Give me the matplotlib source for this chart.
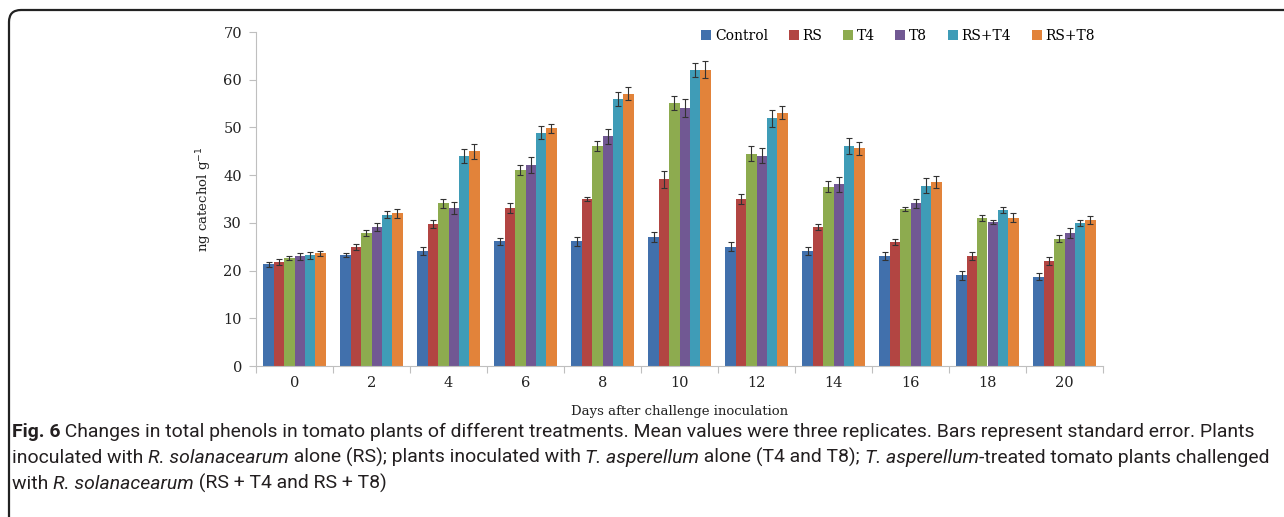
import matplotlib
matplotlib.use("Agg")
import matplotlib.pyplot as plt
import numpy as np
from matplotlib.path import Path
from matplotlib.patches import PathPatch

days = ["0", "2", "4", "6", "8", "10", "12", "14", "16", "18", "20"]
series_names = ["Control", "RS", "T4", "T8", "RS+T4", "RS+T8"]
control = [21.3, 23.2, 24.1, 26.1, 26.1, 27.0, 25.0, 24.1, 23.0, 19.0, 18.7]
rs      = [21.8, 25.0, 29.8, 33.1, 35.0, 39.1, 35.0, 29.1, 26.0, 23.0, 22.0]
t4      = [22.7, 27.9, 34.1, 41.1, 46.1, 55.1, 44.5, 37.6, 32.9, 31.0, 26.7]
t8      = [23.0, 29.1, 33.1, 42.1, 48.1, 54.0, 44.1, 38.1, 34.1, 30.2, 27.9]
rs_t4   = [23.2, 31.7, 44.0, 48.9, 55.9, 62.0, 51.9, 46.1, 37.8, 32.7, 29.9]
rs_t8   = [23.6, 32.0, 45.0, 49.8, 57.1, 62.1, 53.1, 45.6, 38.6, 31.1, 30.6]

err_control = [0.5, 0.4, 0.8, 0.8, 0.9, 1.1, 1.0, 0.8, 0.8, 1.0, 0.7]
err_rs      = [0.7, 0.6, 0.9, 1.0, 0.5, 1.7, 1.1, 0.6, 0.7, 0.8, 0.9]
err_t4      = [0.4, 0.7, 1.0, 1.0, 1.0, 1.4, 1.6, 1.1, 0.4, 0.6, 0.8]
err_t8      = [0.7, 0.8, 1.2, 1.6, 1.6, 1.9, 1.5, 1.6, 1.0, 0.5, 1.0]
err_rs_t4   = [0.7, 0.7, 1.4, 1.4, 1.5, 1.4, 1.8, 1.6, 1.5, 0.6, 0.6]
err_rs_t8   = [0.5, 1.0, 1.6, 1.0, 1.4, 1.8, 1.4, 1.3, 1.3, 0.9, 0.8]

values = [control, rs, t4, t8, rs_t4, rs_t8]
errors = [err_control, err_rs, err_t4, err_t8, err_rs_t4, err_rs_t8]
colors = ["#4170AC", "#B24542", "#8DAB4F", "#715893", "#3F9CB7", "#E2833A"]

W, H = 1284, 517
fig = plt.figure(figsize=(W / 100, H / 100), dpi=100)
ax = fig.add_axes([256 / W, 1 - 366 / H, (1103 - 256) / W, (366 - 32) / H])

serif = "DejaVu Serif"
x = np.arange(len(days))
bw = 0.135
for i, (vals, errs, c, name) in enumerate(zip(values, errors, colors, series_names)):
    pos = x + (i - 2.5) * bw
    ax.bar(pos, vals, width=bw, color=c, label=name, zorder=2)
    ax.errorbar(pos, vals, yerr=errs, fmt="none", ecolor="#333333",
                elinewidth=0.8, capsize=2, capthick=0.8, zorder=3)

ax.set_xlim(-0.5, 10.5)
ax.set_ylim(0, 70)
ax.set_yticks(np.arange(0, 71, 10))
ax.set_xticks(x)
ax.set_xticklabels(days, family=serif, fontsize=10.5, color="#222222")
ax.set_xticks(np.arange(-0.5, 11, 1), minor=True)
ax.tick_params(axis="x", which="major", length=0, pad=7)
ax.tick_params(axis="x", which="minor", length=5, color="#BFBFBF", width=0.8)
ax.tick_params(axis="y", length=5, color="#BFBFBF", width=0.8, pad=5)
for lbl in ax.get_yticklabels():
    lbl.set_family(serif)
    lbl.set_fontsize(10.5)
    lbl.set_color("#222222")
for s in ["top", "right"]:
    ax.spines[s].set_visible(False)
for s in ["left", "bottom"]:
    ax.spines[s].set_color("#BFBFBF")
    ax.spines[s].set_linewidth(0.8)

ax.set_ylabel("ng catechol g$^{-1}$", family=serif, fontsize=9.5, color="#222222", labelpad=7)
ax.set_xlabel("Days after challenge inoculation", family=serif, fontsize=9.5,
              color="#222222", labelpad=11)

leg = fig.legend(loc="center", bbox_to_anchor=(898 / W, 1 - 36 / H), ncol=6,
                 frameon=False, handlelength=0.72, handleheight=0.72,
                 handletextpad=0.25, columnspacing=1.5,
                 prop={"family": serif, "size": 10})

# border (top + left with rounded corner)
r = 12
verts = [(W, H - 10), (9 + r, H - 10), (9, H - 10), (9, H - 10 - r), (9, -5)]
codes = [Path.MOVETO, Path.LINETO, Path.CURVE3, Path.CURVE3, Path.LINETO]
path = Path([(vx / W, vy / H) for vx, vy in verts], codes)
fig.patches.append(PathPatch(path, transform=fig.transFigure, fill=False,
                             lw=1.6, edgecolor="#222222"))

# caption
cap_font = ["Roboto", "DejaVu Sans"]
lines = [
    [("Fig. 6", "bold", "normal"),
     (" Changes in total phenols in tomato plants of different treatments. Mean values were three replicates. Bars represent standard error. Plants", "normal", "normal")],
    [("inoculated with ", "normal", "normal"), ("R. solanacearum", "normal", "italic"),
     (" alone (RS); plants inoculated with ", "normal", "normal"), ("T. asperellum", "normal", "italic"),
     (" alone (T4 and T8); ", "normal", "normal"), ("T. asperellum", "normal", "italic"),
     ("-treated tomato plants challenged", "normal", "normal")],
    [("with ", "normal", "normal"), ("R. solanacearum", "normal", "italic"),
     (" (RS + T4 and RS + T8)", "normal", "normal")],
]
baselines = [437, 463, 489]
renderer = fig.canvas.get_renderer()

def line_width(parts, size):
    total = 0
    for txt, wt, st in parts:
        t = fig.text(0, 0, txt, family=cap_font, fontsize=size, weight=wt, style=st)
        total += t.get_window_extent(renderer).width
        t.remove()
    return total

base_size = 13
w0 = max(line_width(lines[0], base_size), line_width(lines[1], base_size))
size = base_size * (1258 / w0)

for parts, by in zip(lines, baselines):
    xpos = 12
    for txt, wt, st in parts:
        t = fig.text(xpos / W, 1 - by / H, txt, family=cap_font, fontsize=size,
                     weight=wt, style=st, va="baseline", ha="left", color="#231F20")
        xpos += t.get_window_extent(renderer).width

fig.savefig("out.png", dpi=100)
